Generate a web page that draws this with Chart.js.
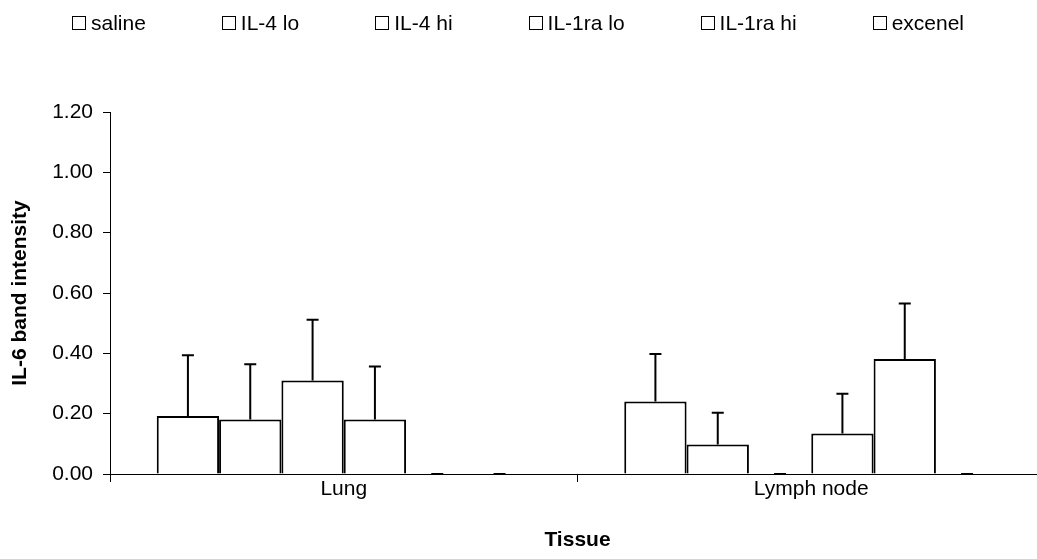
<!DOCTYPE html>
<html>
<head>
<meta charset="utf-8">
<script src="https://cdn.jsdelivr.net/npm/chart.js@4/dist/chart.umd.min.js"></script>
<style>
  html, body { margin: 0; padding: 0; background: #fff; overflow: hidden; }
  #wrap { width: 1050px; height: 559px; }
</style>
</head>
<body>
<div id="wrap"><canvas id="il6-chart"></canvas></div>
<script>
const tissues = ["Lung", "Lymph node"];
const groups = ["saline", "IL-4 lo", "IL-4 hi", "IL-1ra lo", "IL-1ra hi", "excenel"];

const saline = [0.192, 0.24];
const il4Lo = [0.181, 0.098];
const il4Hi = [0.31, 0];
const il1raLo = [0.181, 0.134];
const il1raHi = [0, 0.381];
const excenel = [0, 0];

const salineErr = [0.202, 0.158];
const il4LoErr = [0.183, 0.105];
const il4HiErr = [0.201, 0];
const il1raLoErr = [0.175, 0.132];
const il1raHiErr = [0, 0.184];
const excenelErr = [0, 0];

const yTicks = [0, 0.2, 0.4, 0.6, 0.8, 1.0, 1.2];

const values = [saline, il4Lo, il4Hi, il1raLo, il1raHi, excenel];
const errors = [salineErr, il4LoErr, il4HiErr, il1raLoErr, il1raHiErr, excenelErr];

const FONT = "'Liberation Sans', Arial, sans-serif";
const SIZE = 21;

// upper error bars with a cap, also drawn for zero bars
const errorBars = {
  id: "errorBars",
  afterDatasetsDraw(chart) {
    const ctx = chart.ctx;
    const y = chart.scales.y;
    ctx.save();
    ctx.strokeStyle = "#000";
    ctx.lineWidth = 2;
    chart.data.datasets.forEach((ds, i) => {
      const meta = chart.getDatasetMeta(i);
      meta.data.forEach((bar, j) => {
        const base = y.getPixelForValue(ds.data[j]);
        const top = y.getPixelForValue(ds.data[j] + errors[i][j]);
        ctx.beginPath();
        ctx.moveTo(bar.x, base);
        ctx.lineTo(bar.x, top);
        ctx.moveTo(bar.x - 6, top);
        ctx.lineTo(bar.x + 6, top);
        ctx.stroke();
      });
    });
    ctx.restore();
  },
};

// legend row across the top: empty boxes with names
const topLegend = {
  id: "topLegend",
  afterDraw(chart) {
    const ctx = chart.ctx;
    const box = 13, gap = 6, spacing = 76, cy = 23;
    ctx.save();
    ctx.font = SIZE + "px " + FONT;
    const widths = groups.map((g) => box + gap + ctx.measureText(g).width);
    const total = widths.reduce((a, b) => a + b, 0) + spacing * (groups.length - 1);
    let x = 518 - total / 2;
    ctx.textBaseline = "middle";
    ctx.fillStyle = "#000";
    ctx.strokeStyle = "#000";
    ctx.lineWidth = 1;
    groups.forEach((g, i) => {
      ctx.strokeRect(Math.round(x) + 0.5, cy - box / 2, box, box);
      ctx.fillText(g, x + box + gap, cy + 1);
      x += widths[i] + spacing;
    });
    ctx.restore();
  },
};

new Chart(document.getElementById("il6-chart"), {
  type: "bar",
  data: {
    labels: tissues,
    datasets: groups.map((g, i) => ({
      label: g,
      data: values[i],
      backgroundColor: "#fff",
      borderColor: "#000",
      borderWidth: 2,
      categoryPercentage: 0.8,
      barPercentage: 1.0,
    })),
  },
  options: {
    responsive: true,
    maintainAspectRatio: false,
    animation: false,
    layout: { padding: { top: 112, right: 5, left: 0, bottom: 0 } },
    plugins: {
      legend: { display: false },
      tooltip: { enabled: false },
    },
    scales: {
      x: {
        afterFit: (scale) => { scale.height = 85; },
        grid: {
          offset: true,
          drawOnChartArea: false,
          drawTicks: true,
          tickLength: 8,
          color: "#000",
        },
        border: { color: "#000", width: 1 },
        ticks: { color: "#000", font: { family: FONT, size: SIZE }, padding: -5 },
        title: {
          display: true,
          text: "Tissue",
          color: "#000",
          font: { family: FONT, size: SIZE, weight: "bold" },
          padding: { top: 0, bottom: 6 },
        },
      },
      y: {
        min: 0,
        max: 1.2,
        afterFit: (scale) => { scale.width = 110; },
        afterBuildTicks: (scale) => { scale.ticks = yTicks.map((v) => ({ value: v })); },
        grid: {
          drawOnChartArea: false,
          drawTicks: true,
          tickLength: 7,
          color: "#000",
        },
        border: { color: "#000", width: 1 },
        ticks: {
          color: "#000",
          font: { family: FONT, size: SIZE },
          padding: 10,
          callback: (v) => Number(v).toFixed(2),
        },
        title: {
          display: true,
          text: "IL-6 band intensity",
          color: "#000",
          font: { family: FONT, size: SIZE, weight: "bold" },
          padding: { top: 8, bottom: 0 },
        },
      },
    },
  },
  plugins: [errorBars, topLegend],
});
</script>
</body>
</html>
